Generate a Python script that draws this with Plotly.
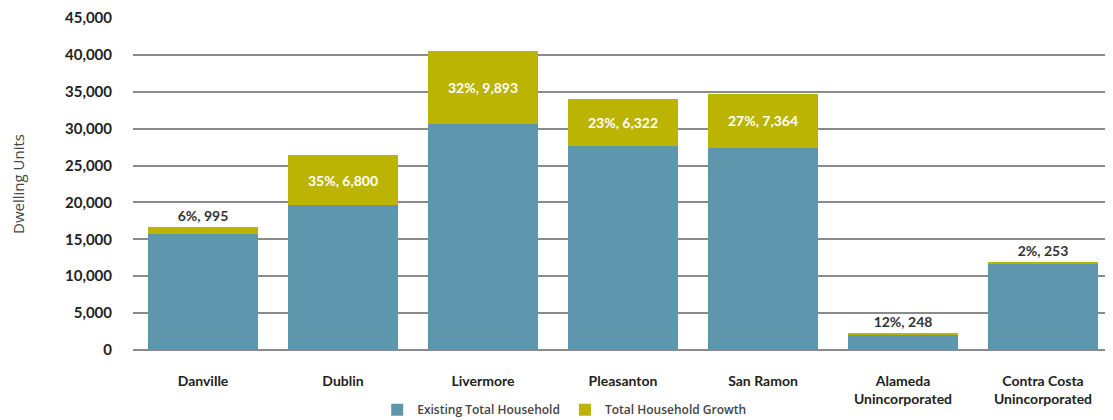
import plotly.graph_objects as go

categories = ["Danville", "Dublin", "Livermore", "Pleasanton", "San Ramon",
              "Alameda<br>Unincorporated", "Contra Costa<br>Unincorporated"]
existing = [15700, 19600, 30600, 27700, 27400, 2070, 11700]
growth = [995, 6800, 9893, 6322, 7364, 248, 253]
growth_pct = [6, 35, 32, 23, 27, 12, 2]
label_inside = [False, True, True, True, True, False, False]
y_ticks = [0, 5000, 10000, 15000, 20000, 25000, 30000, 35000, 40000, 45000]

labels = [f"{p}%, {g:,}" for p, g in zip(growth_pct, growth)]
positions = ["inside" if i else "outside" for i in label_inside]
colors = ["white" if i else "#333333" for i in label_inside]

blue = "#5E97AD"
olive = "#BBB403"

fig = go.Figure()
fig.add_trace(go.Bar(x=categories, y=existing, name="Existing Total Household",
                     marker=dict(color=blue, line=dict(width=0))))
fig.add_trace(go.Bar(x=categories, y=growth, name="Total Household Growth",
                     marker=dict(color=olive, line=dict(width=0)),
                     text=labels, textposition=positions,
                     insidetextanchor="middle",
                     textfont=dict(color=colors, size=14, family="Lato", weight="bold"),
                     constraintext="none", cliponaxis=False))

fig.update_layout(
    barmode="stack", bargap=0.21,
    width=1105, height=412,
    margin=dict(l=125, r=0, t=10, b=70, autoexpand=False),
    paper_bgcolor="white", plot_bgcolor="white",
    font=dict(family="Lato", color="#333333"),
    showlegend=True,
    legend=dict(orientation="h", x=0.44, xanchor="center", y=-0.18, yanchor="middle",
                font=dict(size=12, color="#444444", family="Open Sans", weight=600),
                itemwidth=30, traceorder="normal"),
    uniformtext=dict(mode=False),
)
fig.update_yaxes(range=[0, 45000], tickvals=y_ticks, tickformat=",",
                 showgrid=True, gridcolor="#8a8a8a", gridwidth=1.6,
                 zeroline=True, zerolinecolor="#8a8a8a", zerolinewidth=1.6,
                 tickfont=dict(size=15, color="#222222", weight="bold"),
                 ticklabelstandoff=20,
                 title=dict(text="Dwelling Units", font=dict(size=15, color="#444444", family="Open Sans"),
                            standoff=37),
                 ticks="", showline=False)
fig.update_xaxes(tickfont=dict(size=14, color="#222222", weight="bold"),
                 ticklabelstandoff=21, showline=False, ticks="")

fig.write_html("out.html")
